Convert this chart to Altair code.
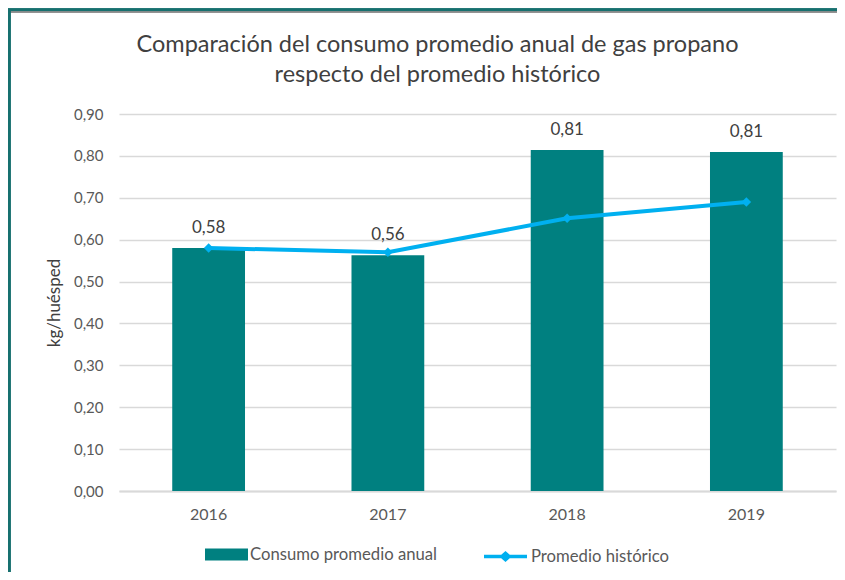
import altair as alt
import pandas as pd

years = ["2016", "2017", "2018", "2019"]
consumo = [0.58, 0.563, 0.814, 0.809]
historico = [0.58, 0.570, 0.651, 0.690]
bar_name = "Consumo promedio anual"
line_name = "Promedio histórico"

df = pd.DataFrame({"year": years, "consumo": consumo, "historico": historico})
df["bar_series"] = bar_name
df["line_series"] = line_name

FONT = "Lato"
TEAL = "#008080"
BLUE = "#00B0F0"
GREY_TXT = "#595959"

xenc = alt.X("year:N", title=None,
             scale=alt.Scale(paddingInner=0.594, paddingOuter=0.297),
             axis=alt.Axis(labelFont=FONT, labelFontSize=16, labelColor=GREY_TXT,
                           labelPadding=15, ticks=False, domainColor="#D9D9D9",
                           domainWidth=2, labelAngle=0))
yscale = alt.Scale(domain=[0, 0.9])

bars = alt.Chart(df).mark_bar(color=TEAL).encode(
    x=xenc,
    y=alt.Y("consumo:Q", scale=yscale, title="kg/huésped",
            axis=alt.Axis(values=[0, 0.1, 0.2, 0.3, 0.4, 0.5, 0.6, 0.7, 0.8, 0.9],
                          labelExpr="replace(format(datum.value, '.2f'), '.', ',')",
                          labelFont=FONT, labelFontSize=15, labelColor=GREY_TXT,
                          labelPadding=16, ticks=False, domain=False,
                          gridColor="#D9D9D9", gridWidth=1.5,
                          titleFont=FONT, titleFontSize=17, titleFontWeight="normal",
                          titleColor="#404040", titlePadding=10)),
    fill=alt.Fill("bar_series:N", scale=alt.Scale(domain=[bar_name], range=[TEAL]),
                  legend=alt.Legend(title=None, orient="none", legendX=86, legendY=419,
                                    symbolType="M-1,-0.28H1V0.28H-1Z", symbolSize=1849,
                                    symbolStrokeWidth=0, labelFont=FONT, labelFontSize=16.7,
                                    labelColor=GREY_TXT, labelOffset=2, padding=0,
                                    labelLimit=400)),
)

labels = alt.Chart(df).transform_calculate(
    lab="replace(format(datum.consumo, '.2f'), '.', ',')"
).mark_text(font=FONT, fontSize=17, color="#404040", dy=-20, baseline="middle").encode(
    x=alt.X("year:N"),
    y=alt.Y("consumo:Q", scale=yscale),
    text="lab:N",
)

line = alt.Chart(df).mark_line(strokeWidth=4, color=BLUE).encode(
    x=alt.X("year:N"),
    y=alt.Y("historico:Q", scale=yscale),
    stroke=alt.Stroke("line_series:N", scale=alt.Scale(domain=[line_name], range=[BLUE]),
                      legend=alt.Legend(title=None, orient="none", legendX=363, legendY=419,
                                        symbolType="M-1,0H1M-0.17,0L0,-0.15L0.17,0L0,0.15Z",
                                        symbolSize=1849, symbolStrokeWidth=3.5,
                                        symbolFillColor=BLUE,
                                        labelFont=FONT, labelFontSize=16.7,
                                        labelColor=GREY_TXT, labelOffset=2, padding=0,
                                        labelLimit=400)),
)

points = alt.Chart(df).mark_point(shape="diamond", filled=True, size=90, color=BLUE, opacity=1).encode(
    x=alt.X("year:N"),
    y=alt.Y("historico:Q", scale=yscale),
)

frame_top = alt.Chart(df).mark_rule(color="#17706F", strokeWidth=3).encode(
    x=alt.value(-111), x2=alt.value(718), y=alt.value(-104))
frame_top2 = alt.Chart(df).mark_rule(color="#8C8C8C", strokeWidth=1).encode(
    x=alt.value(-111), x2=alt.value(718), y=alt.value(-102))
frame_left = alt.Chart(df).mark_rule(color="#17706F", strokeWidth=3).encode(
    x=alt.value(-110), y=alt.value(-104), y2=alt.value(458))

chart = alt.layer(bars, line, points, labels, frame_top, frame_top2, frame_left).properties(
    width=717, height=377,
    autosize=alt.AutoSizeParams(type="none"),
    padding={"left": 111, "top": 106, "right": 1, "bottom": 81},
    title=alt.TitleParams(
        text=["Comparación del consumo promedio anual de gas propano",
              "respecto del promedio histórico"],
        font=FONT, fontSize=23.5, fontWeight="normal", color="#404040",
        anchor="middle", frame="group", dx=-40, lineHeight=30, offset=-78),
    background="white",
).configure_view(stroke=None)

chart.save("out.html", embed_options={"renderer": "svg", "actions": False})
